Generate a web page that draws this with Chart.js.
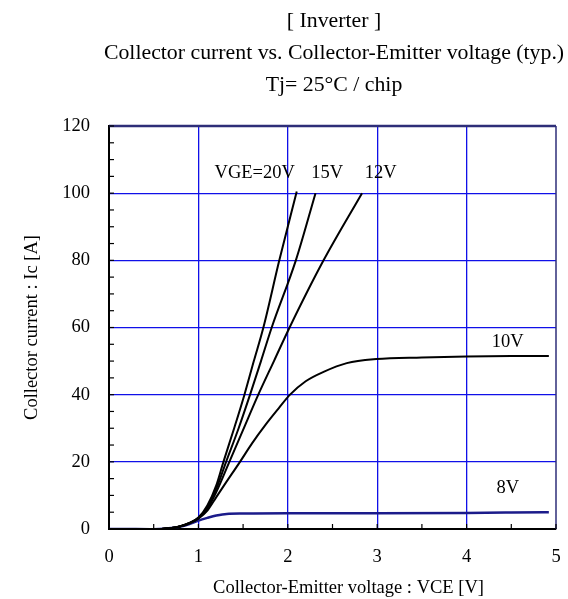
<!DOCTYPE html>
<html>
<head>
<meta charset="utf-8">
<script src="https://cdn.jsdelivr.net/npm/chart.js@4/dist/chart.umd.min.js"></script>
<style>
  html, body { margin: 0; padding: 0; background: #fff; }
  #wrap { width: 568px; height: 599px; position: relative; }
</style>
</head>
<body>
<div id="wrap"><canvas id="icChart"></canvas></div>
<script>
// Ic - VCE curves
const vce20 = [0, 0.3, 0.5, 0.7, 0.8, 0.9, 1.0, 1.1, 1.2, 1.28, 1.4, 1.515, 1.62, 1.727, 1.905, 2.1];
const ic20  = [0, 0, -0.1, 0.3, 0.8, 1.8, 3.4, 7, 13, 20, 30, 40, 50, 60, 80, 100.5];

const vce15 = [0, 0.3, 0.5, 0.7, 0.8, 0.9, 1.0, 1.1, 1.2, 1.31, 1.45, 1.578, 1.70, 1.82, 2.09, 2.31];
const ic15  = [0, 0, -0.1, 0.3, 0.8, 1.8, 3.3, 6.5, 12, 20, 30, 40, 50, 60, 80, 100];

const vce12 = [0, 0.3, 0.5, 0.7, 0.8, 0.9, 1.0, 1.1, 1.2, 1.346, 1.5, 1.67, 1.845, 2.02, 2.4, 2.83];
const ic12  = [0, 0, -0.1, 0.3, 0.8, 1.7, 3.2, 6, 11, 20, 29.5, 40, 50, 60, 80, 100];

const vce10 = [0, 0.3, 0.5, 0.7, 0.8, 0.9, 1.0, 1.1, 1.2, 1.3, 1.465, 1.6, 1.75, 1.9, 2.025, 2.2, 2.4, 2.66, 2.99, 3.5, 4, 4.5, 4.92];
const ic10  = [0, 0, -0.1, 0.3, 0.8, 1.7, 3.1, 5.5, 9.5, 13.5, 20, 25.5, 31, 36, 40, 44, 46.8, 49.4, 50.6, 51.1, 51.4, 51.5, 51.5];

const vce8 = [0, 0.3, 0.5, 0.7, 0.8, 0.9, 1.0, 1.1, 1.2, 1.316, 1.5, 2, 3, 4, 4.5, 4.92];
const ic8  = [0, 0, -0.1, 0.3, 0.7, 1.5, 2.5, 3.3, 4.0, 4.5, 4.6, 4.7, 4.7, 4.8, 4.9, 5.0];

// curve labels (text + where they sit, in data units)
const curveLabels = ["VGE=20V", "15V", "12V", "10V", "8V"];
const labelVce = [1.63, 2.44, 3.04, 4.46, 4.46];
const labelIc  = [106.1, 106.1, 106.1, 55.5, 12.2];

const titleLines = ["[ Inverter ]", "Collector current vs. Collector-Emitter voltage (typ.)", "Tj= 25°C / chip"];
const xTitle = "Collector-Emitter voltage : VCE [V]";

const FONT = "'Liberation Serif', 'Times New Roman', serif";
const GRID_BLUE = "#1010e8";

function toPoints(xs, ys) {
  return xs.map((x, i) => ({ x: x, y: ys[i] }));
}

function curve(xs, ys, color, width) {
  return {
    data: toPoints(xs, ys),
    borderColor: color,
    borderWidth: width,
    pointRadius: 0,
    showLine: true,
    cubicInterpolationMode: "monotone",
    fill: false
  };
}

// titles, frame, inward minor ticks and curve labels
const decorPlugin = {
  id: "decor",
  afterDatasetsDraw(chart) {
    const { ctx, chartArea: a, scales } = chart;
    ctx.save();

    ctx.fillStyle = "#000";
    ctx.textAlign = "center";
    ctx.textBaseline = "middle";

    // chart title, sits a bit right of the canvas centre like the original
    ctx.font = "21.8px " + FONT;
    titleLines.forEach((txt, i) => {
      ctx.fillText(txt, 334, 21 + i * 32);
    });

    // x axis title
    ctx.font = "18.5px " + FONT;
    ctx.fillText(xTitle, 348.5, 588);

    // top and right frame
    ctx.strokeStyle = "#2e2e78";
    ctx.lineWidth = 2.5;
    ctx.beginPath();
    ctx.moveTo(a.left, a.top);
    ctx.lineTo(a.right, a.top);
    ctx.stroke();
    ctx.lineWidth = 1.5;
    ctx.beginPath();
    ctx.moveTo(a.right, a.top);
    ctx.lineTo(a.right, a.bottom);
    ctx.stroke();

    // inward ticks
    ctx.strokeStyle = "#000";
    ctx.lineWidth = 1.2;
    scales.y.ticks.forEach((t) => {
      const py = scales.y.getPixelForValue(t.value);
      ctx.beginPath();
      ctx.moveTo(a.left, py);
      ctx.lineTo(a.left + 5, py);
      ctx.stroke();
    });
    scales.x.ticks.forEach((t) => {
      const px = scales.x.getPixelForValue(t.value);
      ctx.beginPath();
      ctx.moveTo(px, a.bottom);
      ctx.lineTo(px, a.bottom - 5);
      ctx.stroke();
    });

    // curve labels
    curveLabels.forEach((txt, i) => {
      ctx.fillText(txt, scales.x.getPixelForValue(labelVce[i]), scales.y.getPixelForValue(labelIc[i]));
    });
    ctx.restore();
  }
};

new Chart(document.getElementById("icChart"), {
  type: "scatter",
  data: {
    datasets: [
      curve(vce20, ic20, "#000", 2),
      curve(vce15, ic15, "#000", 2),
      curve(vce12, ic12, "#000", 2),
      curve(vce10, ic10, "#000", 2),
      curve(vce8, ic8, "#1b1b8a", 2.5)
    ]
  },
  options: {
    responsive: true,
    maintainAspectRatio: false,
    animation: false,
    layout: { padding: { left: 0, right: 12, top: 126, bottom: 0 } },
    plugins: {
      legend: { display: false },
      tooltip: { enabled: false },
      title: { display: false }
    },
    scales: {
      x: {
        type: "linear",
        min: 0,
        max: 5,
        afterFit: (s) => { s.height = 70; },
        ticks: {
          stepSize: 0.5,
          padding: 0,
          color: "#000",
          font: { family: FONT, size: 18.5 },
          maxRotation: 0,
          autoSkip: false,
          callback: (v) => (Number.isInteger(v) ? String(v) : "")
        },
        grid: {
          drawTicks: true,
          tickLength: 17,
          tickColor: "transparent",
          lineWidth: 1.3,
          color: (c) => {
            const v = c.tick ? c.tick.value : 0;
            return Number.isInteger(v) && v > 0 && v < 5 ? GRID_BLUE : "transparent";
          }
        },
        border: { color: "#000", width: 2 },
        title: { display: false }
      },
      y: {
        min: 0,
        max: 120,
        afterFit: (s) => { s.width = 109; },
        ticks: {
          stepSize: 5,
          padding: 19,
          color: "#000",
          font: { family: FONT, size: 18.5 },
          autoSkip: false,
          callback: (v) => (v % 20 === 0 ? String(v) : "")
        },
        grid: {
          drawTicks: false,
          lineWidth: 1.3,
          color: (c) => {
            const v = c.tick ? c.tick.value : 0;
            return v % 20 === 0 && v > 0 && v < 120 ? GRID_BLUE : "transparent";
          }
        },
        border: { color: "#000", width: 2 },
        title: {
          display: true,
          text: "Collector current : Ic [A]",
          color: "#000",
          font: { family: FONT, size: 18.5 },
          padding: { top: 21, bottom: 0 }
        }
      }
    }
  },
  plugins: [decorPlugin]
});
</script>
</body>
</html>
